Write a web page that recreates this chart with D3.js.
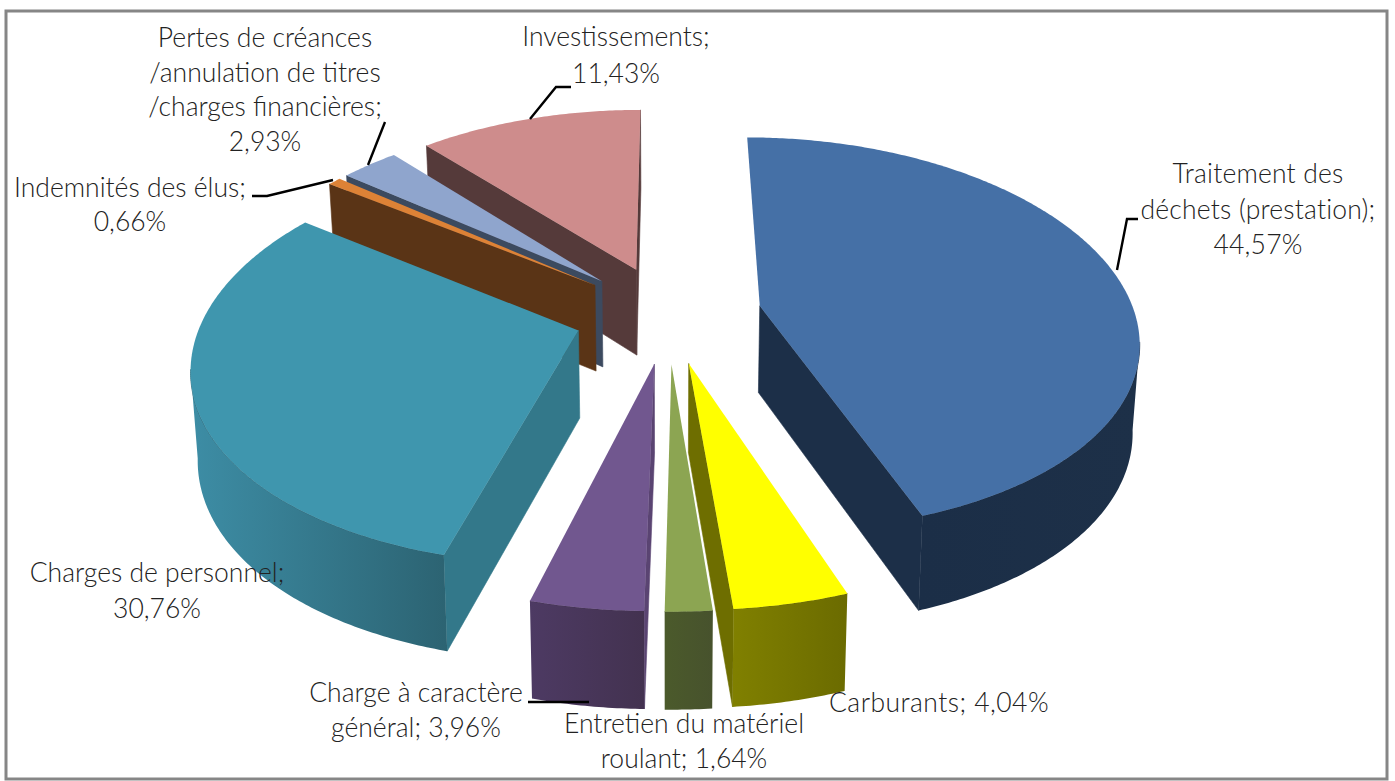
<!DOCTYPE html>
<html lang="fr">
<head>
<meta charset="utf-8">
<script src="https://cdn.jsdelivr.net/npm/d3@7/dist/d3.min.js"></script>
<style>
html,body{margin:0;padding:0;background:#fff;overflow:hidden}
svg{display:block}
text{font-family:Lato,"Open Sans",sans-serif;font-weight:300;font-size:26.5px;fill:#222;text-anchor:middle}
</style>
</head>
<body>
<svg id="chart" width="1395" height="781"></svg>
<script>
// ---- data ----
const categories = ["Traitement des déchets (prestation)","Carburants","Entretien du matériel roulant","Charge à caractère général","Charges de personnel","Indemnités des élus","Pertes de créances /annulation de titres /charges financières","Investissements"];
const values = [44.57,4.04,1.64,3.96,30.76,0.66,2.93,11.43];
// ---- styles ----
const topColors   = ["#4570A6","#FFFF00","#8CA552","#71578F","#3F96AE","#DD8236","#8FA5CD","#CE8C8C"];
const wallStart   = ["#1D3048","#6B6B00","#47522D","#433250","#2C6372","#5A3416","#3C4A5F","#553A3A"];
const wallEnd     = ["#1B2E47","#808000","#4B5A2B","#4D3A63","#3D8DA5","#5A3416","#3C4A5F","#553A3A"];
const cutColors   = ["#1C2F48","#6E6E00","#47522D","#5A4472","#33788A","#5A3416","#3C4A5F","#553A3A"];
const hideStartFace = [true,false,false,false,false,false,false,false];
// ---- labels (line breaks of each category) ----
const labelLines = [
  ["Traitement des","déchets (prestation);"],
  [],
  ["Entretien du matériel"],
  ["Charge à caractère"],
  ["Charges de personnel;"],
  ["Indemnités des élus;"],
  ["Pertes de créances","/annulation de titres","/charges financières;"],
  ["Investissements;"]
];
const labelTail = ["","Carburants; ","roulant; ","général; ","","","",""];
const labelX = [1258,939,684,416,157,130,265,616];
const labelY = [183,712,733,702,582,197,47,46];
const labelStep = [35.5,35,35,35,36,34,34.5,37];
const labelSpacing = [0.2,0.45,0,0,0,0,0,0];
const leaders = [
  [[1117,270],[1127,219],[1138,219]],
  [],
  [],
  [[528,702],[589,702]],
  [],
  [[333,180],[267,196],[252,196]],
  [[368,165],[385,122]],
  [[530,119],[556,87],[571,87]]
];
// ---- projection of the tilted disc ----
const cx=668, cy=314, B=375, A=195, KX=0.16, KY=0.145, E=0.25, DEPTH=87, LOWER=0.985;
const svg=d3.select("#chart");
svg.append("rect").attr("x",6).attr("y",11).attr("width",1381).attr("height",768)
   .attr("fill","#fff").attr("stroke","#868686").attr("stroke-width",3);
const defs=svg.append("defs");
const project=(X,Y,z)=>{
  const sx=B*X/(1-KX*Y);
  return [cx+sx*(z?LOWER:1), cy+A*Y/(1-KY*Y)+(z?DEPTH/(1-0.09*Y):0)];
};
const camera=[0,1/KY];
const arcs=d3.pie().sort(null).startAngle(0).endAngle(2*Math.PI)(values);
const slices=arcs.map((a,i)=>{
  const m=(a.startAngle+a.endAngle)/2;
  return {i,a0:a.startAngle,a1:a.endAngle,ox:E*Math.sin(m),oy:-E*Math.cos(m)};
}).sort((p,q)=>d3.ascending(p.oy,q.oy));
const line=d3.line();
const rim=(s,t)=>[s.ox+Math.sin(t),s.oy-Math.cos(t)];
const layer=svg.append("g");
slices.forEach(s=>{
  const g=layer.append("g");
  const steps=d3.range(0,Math.max(2,Math.ceil((s.a1-s.a0)/0.01))+1);
  const ts=d3.scaleLinear().domain([0,steps.length-1]).range([s.a0,s.a1]);
  const angles=steps.map(ts);
  const apex=[s.ox,s.oy];
  // radial cut faces
  [[s.a0,-1],[s.a1,1]].forEach(([t,sign])=>{
    if(sign<0 && hideStartFace[s.i]) return;
    const n=[sign*Math.cos(t),sign*Math.sin(t)];
    const vis=n[0]*(camera[0]-apex[0])+n[1]*(camera[1]-apex[1])>0;
    if(!vis) return;
    const e=rim(s,t);
    g.append("path").attr("fill",cutColors[s.i]).attr("stroke",cutColors[s.i]).attr("stroke-width",0.6)
     .attr("d",line([project(...apex,0),project(...e,0),project(...e,1),project(...apex,1)])+"Z");
  });
  // outer curved wall: only the part that faces the camera
  const shown=angles.filter(t=>{
    const p=rim(s,t), n=[Math.sin(t),-Math.cos(t)];
    return n[0]*(camera[0]-p[0])+n[1]*(camera[1]-p[1])>0;
  });
  if(shown.length>1){
    const id="w"+s.i;
    const gr=defs.append("linearGradient").attr("id",id);
    gr.append("stop").attr("offset","0%").attr("stop-color",wallEnd[s.i]);
    gr.append("stop").attr("offset","100%").attr("stop-color",wallStart[s.i]);
    const upper=shown.map(t=>project(...rim(s,t),0));
    const lower=shown.map(t=>project(...rim(s,t),1)).reverse();
    g.append("path").attr("fill",`url(#${id})`).attr("d",line(upper.concat(lower))+"Z");
    // seam cover under the top face edge
    g.append("path").attr("fill","none").attr("stroke",wallStart[s.i]).attr("stroke-width",0.8).attr("d",line(upper));
  }
  // top face
  const top=[project(...apex,0)].concat(angles.map(t=>project(...rim(s,t),0)));
  g.append("path").attr("fill",topColors[s.i]).attr("d",line(top)+"Z");
});
// leader lines
leaders.forEach(l=>{
  if(l.length) svg.append("path").attr("d",line(l)).attr("fill","none").attr("stroke","#000").attr("stroke-width",2.4);
});
// labels
const pct=v=>v.toFixed(2).replace(".",",")+"%";
categories.forEach((c,i)=>{
  const lines=labelLines[i].slice();
  lines.push(labelTail[i]+pct(values[i]));
  lines.forEach((t,j)=>{
    svg.append("text").attr("x",labelX[i]).attr("y",labelY[i]+j*labelStep[i])
       .attr("letter-spacing",labelSpacing[i]).text(t);
  });
});
</script>
</body>
</html>
